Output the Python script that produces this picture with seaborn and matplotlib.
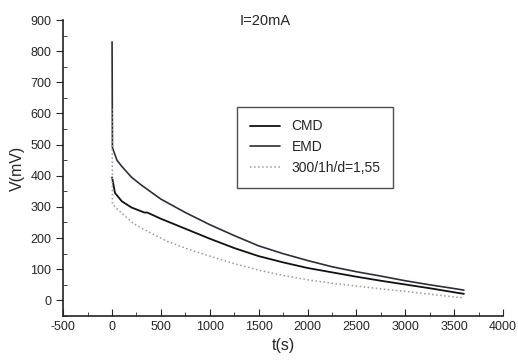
import matplotlib
matplotlib.use('Agg')
import matplotlib.pyplot as plt
from matplotlib.ticker import MultipleLocator
import pandas as pd
import seaborn as sns

# discharge curves
t_emd = [0, 4, 50, 100, 200, 300, 500, 750, 1000, 1250, 1500, 1750, 2000, 2250, 2500, 2750, 3000, 3250, 3500, 3600]
v_emd = [830, 490, 450, 430, 395, 370, 325, 282, 243, 208, 175, 150, 128, 108, 92, 78, 63, 50, 38, 33]

t_cmd = [0, 30, 100, 200, 330, 360, 500, 750, 1000, 1250, 1500, 1750, 2000, 2250, 2500, 2750, 3000, 3250, 3500, 3600]
v_cmd = [395, 345, 318, 298, 282, 282, 262, 230, 198, 168, 142, 122, 104, 90, 76, 63, 51, 39, 26, 21]

t_ref = [0, 4, 30, 100, 214, 300, 561, 800, 1000, 1250, 1500, 1750, 2000, 2250, 2500, 2750, 3000, 3250, 3500, 3600]
v_ref = [615, 310, 300, 280, 248, 232, 190, 162, 142, 118, 97, 80, 66, 55, 46, 37, 29, 20, 11, 8]

labels = ['CMD', 'EMD', '300/1h/d=1,55']

sns.set_style('ticks')
plt.rcParams['font.family'] = ['Liberation Sans', 'DejaVu Sans']
plt.rcParams['axes.unicode_minus'] = False

fig = plt.figure(figsize=(5.18, 3.64), dpi=100)
ax = fig.add_axes([0.122, 0.132, 0.849, 0.813])

series = [(t_cmd, v_cmd, labels[0], '#111111', '-', 1.3),
          (t_emd, v_emd, labels[1], '#2a2f3a', '-', 1.2),
          (t_ref, v_ref, labels[2], '#9a9a9a', ':', 1.1)]
for t, v, lab, col, ls, lw in series:
    df = pd.DataFrame({'t': t, 'V': v})
    sns.lineplot(data=df, x='t', y='V', ax=ax, sort=False, estimator=None,
                 color=col, linestyle=ls, linewidth=lw, label=lab)

ax.set_xlim(-500, 4000)
ax.set_ylim(-50, 900)
ax.xaxis.set_major_locator(MultipleLocator(500))
ax.xaxis.set_minor_locator(MultipleLocator(250))
ax.yaxis.set_major_locator(MultipleLocator(100))
ax.yaxis.set_minor_locator(MultipleLocator(50))
ax.tick_params(axis='x', which='major', direction='in', length=5, labelsize=9)
ax.tick_params(axis='x', which='minor', direction='in', length=3)
ax.tick_params(axis='y', which='major', direction='out', length=5, labelsize=9)
ax.tick_params(axis='y', which='minor', direction='in', length=3)
sns.despine(ax=ax)
for s in ['left', 'bottom']:
    ax.spines[s].set_linewidth(1.2)
    ax.spines[s].set_color('#222222')

ax.set_xlabel('t(s)', fontsize=11.5)
ax.set_ylabel('V(mV)', fontsize=11.5)
ax.text(0.46, 0.995, 'I=20mA', transform=ax.transAxes, ha='center', va='center', fontsize=10.5)

leg = ax.legend(loc='upper left', bbox_to_anchor=(0.38, 0.73), fontsize=10,
                frameon=True, fancybox=False, handlelength=2.2, borderpad=0.9,
                labelspacing=0.5)
leg.get_frame().set_edgecolor('#222222')
leg.get_frame().set_linewidth(1.0)

fig.savefig('out.png', dpi=100)
plt.close(fig)
